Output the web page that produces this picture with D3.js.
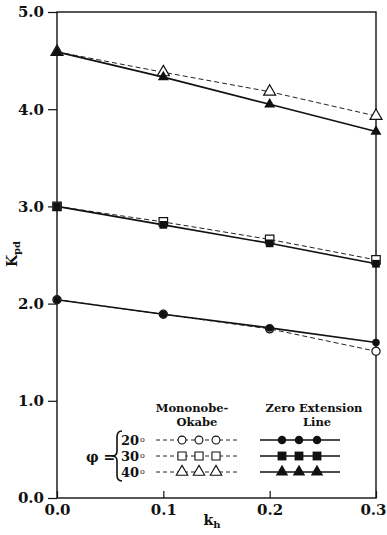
<!DOCTYPE html>
<html>
<head>
<meta charset="utf-8">
<script src="https://cdn.jsdelivr.net/npm/d3@7/dist/d3.min.js"></script>
<style>
body { margin: 0; background: #fff; }
svg text { font-family: "DejaVu Serif", serif; font-weight: bold; fill: #111; }
</style>
</head>
<body>
<svg id="chart" width="387" height="535"></svg>
<script>

var khValues = [0.0, 0.1, 0.2, 0.3];
var yTicks = [0, 1, 2, 3, 4, 5];
var xTicks = [0.0, 0.1, 0.2, 0.3];
var phiLabels = ["20", "30", "40"];

// Zero Extension Line (solid, filled markers)
var zeroExt20 = [2.04, 1.89, 1.75, 1.60];
var zeroExt30 = [3.00, 2.81, 2.62, 2.41];
var zeroExt40 = [4.59, 4.33, 4.05, 3.77];

// Mononobe-Okabe (dashed, open markers)
var mo20 = [2.04, 1.89, 1.74, 1.51];
var mo30 = [3.00, 2.84, 2.66, 2.45];
var mo40 = [4.59, 4.38, 4.18, 3.93];

var shapes = [d3.symbolCircle, d3.symbolSquare, d3.symbolTriangle];
var sizes = [44, 60, 52];

var svg = d3.select("#chart");

var x = d3.scaleLinear().domain([0, 0.3]).range([57, 376]);
var y = d3.scaleLinear().domain([0, 5]).range([498, 12]);

// frame
svg.append("rect")
    .attr("x", x(0)).attr("y", y(5))
    .attr("width", x(0.3) - x(0)).attr("height", y(0) - y(5))
    .attr("fill", "none").attr("stroke", "#111").attr("stroke-width", 1.4);

var yAxis = svg.append("g")
    .attr("transform", "translate(" + x(0) + ",0)")
    .call(d3.axisLeft(y).tickValues(yTicks).tickSize(9).tickPadding(4).tickFormat(d3.format(".1f")));
yAxis.select(".domain").remove();
yAxis.selectAll("line").attr("stroke", "#111").attr("stroke-width", 1.2);
yAxis.selectAll("text").attr("font-size", 15).attr("font-family", "DejaVu Serif").attr("font-weight", "bold").attr("fill", "#111");

var xAxis = svg.append("g")
    .attr("transform", "translate(0," + y(0) + ")")
    .call(d3.axisBottom(x).tickValues(xTicks).tickSizeInner(-7).tickSizeOuter(0).tickPadding(6).tickFormat(d3.format(".1f")));
xAxis.select(".domain").remove();
xAxis.selectAll("line").attr("stroke", "#111").attr("stroke-width", 1.2);
xAxis.selectAll("text").attr("font-size", 15).attr("font-family", "DejaVu Serif").attr("font-weight", "bold").attr("fill", "#111");
// last label sits against the page edge
xAxis.selectAll("text").filter(function(d) { return d === 0.3; }).attr("text-anchor", "end").attr("dx", 10);

// axis titles
var ylab = svg.append("text")
    .attr("transform", "translate(17,254) rotate(-90)")
    .attr("text-anchor", "middle")
    .attr("font-size", 14);
ylab.append("tspan").text("K");
ylab.append("tspan").attr("font-size", 10).attr("dy", 3).text("pd");

var xlab = svg.append("text")
    .attr("x", 212).attr("y", 525)
    .attr("text-anchor", "middle")
    .attr("font-size", 14);
xlab.append("tspan").text("k");
xlab.append("tspan").attr("font-size", 10).attr("dy", 3).text("h");

var line = d3.line()
    .x(function(d, i) { return x(khValues[i]); })
    .y(function(d) { return y(d); });

var moSeries = [mo20, mo30, mo40];
var zeSeries = [zeroExt20, zeroExt30, zeroExt40];

moSeries.forEach(function(s, k) {
    svg.append("path").attr("d", line(s))
        .attr("fill", "none").attr("stroke", "#222")
        .attr("stroke-width", 1).attr("stroke-dasharray", "5,3");
});
zeSeries.forEach(function(s, k) {
    svg.append("path").attr("d", line(s))
        .attr("fill", "none").attr("stroke", "#111")
        .attr("stroke-width", 1.6);
});

moSeries.forEach(function(s, k) {
    svg.selectAll(".mo" + k)
        .data(s)
        .enter()
        .append("path")
        .attr("d", d3.symbol().type(shapes[k]).size(sizes[k] * 1.2))
        .attr("transform", function(d, i) { return "translate(" + x(khValues[i]) + "," + y(d) + ")"; })
        .attr("fill", "#fff").attr("stroke", "#111").attr("stroke-width", 1.2);
});
zeSeries.forEach(function(s, k) {
    svg.selectAll(".ze" + k)
        .data(s)
        .enter()
        .append("path")
        .attr("d", d3.symbol().type(shapes[k]).size(sizes[k]))
        .attr("transform", function(d, i) { return "translate(" + x(khValues[i]) + "," + y(d) + ")"; })
        .attr("fill", "#111");
});

// legend
var lg = svg.append("g");
lg.append("text").attr("x", 192).attr("y", 412).attr("text-anchor", "middle").attr("font-size", 11.5).text("Mononobe-");
lg.append("text").attr("x", 197).attr("y", 426).attr("text-anchor", "middle").attr("font-size", 11.5).text("Okabe");
lg.append("text").attr("x", 314).attr("y", 412).attr("text-anchor", "middle").attr("font-size", 11.5).text("Zero Extension");
lg.append("text").attr("x", 317).attr("y", 426).attr("text-anchor", "middle").attr("font-size", 11.5).text("Line");

lg.append("text").attr("x", 86).attr("y", 462).attr("font-size", 14).text("\u03c6 =");
lg.append("path")
    .attr("d", "M122,431 Q117,431 117,437 L117,451 Q117,456 112,456 Q117,456 117,461 L117,475 Q117,481 122,481")
    .attr("fill", "none").attr("stroke", "#111").attr("stroke-width", 1.6);

var rowY = [440, 456, 472];
phiLabels.forEach(function(p, k) {
    var ry = rowY[k];
    var t = lg.append("text").attr("x", 121).attr("y", ry + 5).attr("font-size", 13);
    t.append("tspan").text(p);
    t.append("tspan").attr("font-size", 8).attr("font-weight", "normal").attr("dx", 1).attr("dy", -3).text("o");
    lg.append("line").attr("x1", 156).attr("x2", 240).attr("y1", ry).attr("y2", ry)
        .attr("stroke", "#222").attr("stroke-width", 1).attr("stroke-dasharray", "4,3");
    [182, 199, 216].forEach(function(mx) {
        lg.append("path").attr("d", d3.symbol().type(shapes[k]).size(sizes[k] * 1.1))
            .attr("transform", "translate(" + mx + "," + ry + ")")
            .attr("fill", "#fff").attr("stroke", "#111").attr("stroke-width", 1.1);
    });
    lg.append("line").attr("x1", 260).attr("x2", 340).attr("y1", ry).attr("y2", ry)
        .attr("stroke", "#111").attr("stroke-width", 1.3);
    [282, 299, 317].forEach(function(mx) {
        lg.append("path").attr("d", d3.symbol().type(shapes[k]).size(sizes[k] * 1.3))
            .attr("transform", "translate(" + mx + "," + ry + ")")
            .attr("fill", "#111");
    });
});

</script>
</body>
</html>
